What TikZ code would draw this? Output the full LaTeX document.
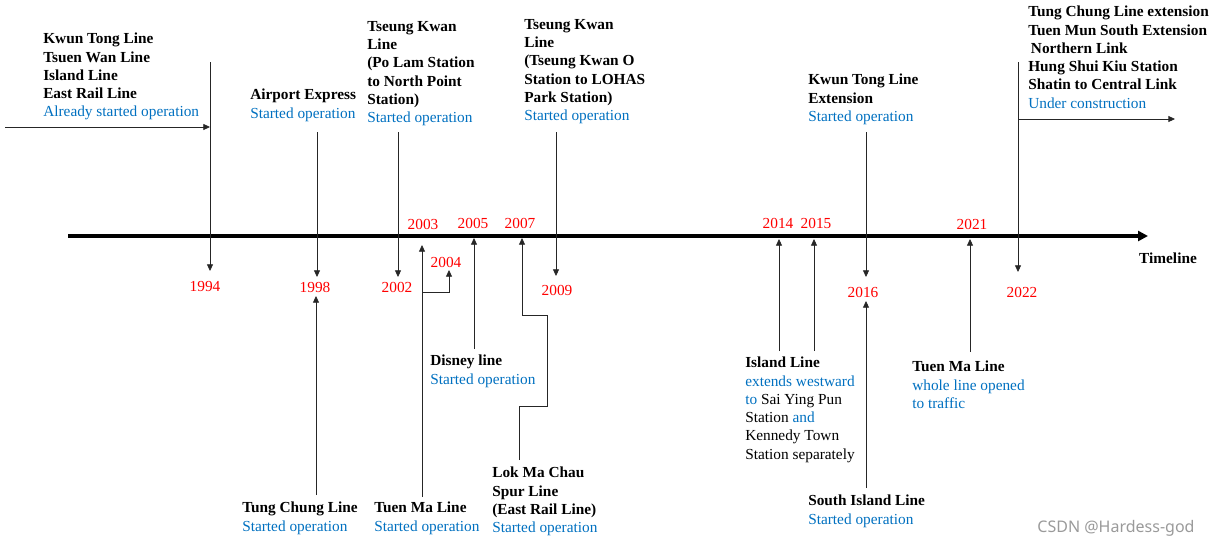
\documentclass[tikz,border=0pt]{standalone}
\usepackage{fontspec}
\setmainfont{Liberation Serif}
\newfontfamily\wmfont{Noto Sans}
\usepackage{xcolor}
\usetikzlibrary{arrows.meta,positioning,calc}
\definecolor{tblue}{HTML}{0070C0}
\definecolor{tred}{HTML}{FF0000}
\definecolor{tline}{HTML}{262626}
\definecolor{wmgrey}{HTML}{9A9A9A}
\newcommand{\optext}[1]{\textcolor{tblue}{#1}}

\begin{document}
\begin{tikzpicture}[
  x=0.75pt,y=-0.75pt,
  every node/.style={font=\fontsize{11.5}{13.7}\selectfont},
  lbl/.style={anchor=north west,inner sep=0pt,align=left},
  yr/.style={text=tred,inner sep=0pt},
  arrow/.style={-{Triangle[length=5pt,width=4.5pt]},line width=0.6pt,draw=tline},
  axis/.style={-{Triangle[length=7.5pt,width=7.5pt]},line width=3pt}
]
\useasboundingbox (0,0) rectangle (1209,546);

% main time axis
\coordinate (axl) at (68,236);
\coordinate (axr) at (1148,236);
\draw[axis] (axl) -- (axr);
\node[inner sep=0pt] (timeline) at (1168,258) {\textbf{Timeline}};

% before 1994
\node[lbl] (early) at (43,33) {\textbf{Kwun Tong Line}\\\textbf{Tsuen Wan Line}\\\textbf{Island Line}\\\textbf{East Rail Line}\\\optext{Already started operation}};
\coordinate (early-in) at (5,127);
\coordinate (v1994) at (210,127);
\coordinate (s1994) at (210,62);
\coordinate (e1994) at (210,271);
\node[yr] (y1994) at (205,286) {1994};
\draw[arrow] (early-in) -- (v1994);
\draw[arrow] (s1994) -- (e1994);

% 1998
\node[lbl] (ae) at (250,89) {\textbf{Airport Express}\\\optext{Started operation}};
\coordinate (s1998) at (317,132);
\coordinate (e1998) at (317,277);
\node[yr] (y1998) at (315,287) {1998};
\draw[arrow] (s1998) -- (e1998);
\node[lbl] (tcl) at (242,502) {\textbf{Tung Chung Line}\\\optext{Started operation}};
\coordinate (b1998) at (316,495);
\coordinate (u1998) at (316,296);
\draw[arrow] (b1998) -- (u1998);

% 2002
\node[lbl] (tkl-a) at (367,21) {\textbf{Tseung Kwan}\\\textbf{Line}\\\textbf{(Po Lam Station}\\\textbf{to North Point}\\\textbf{Station)}\\\optext{Started operation}};
\coordinate (s2002) at (398,132);
\coordinate (e2002) at (398,277);
\node[yr] (y2002) at (397,287) {2002};
\draw[arrow] (s2002) -- (e2002);

% 2003 / 2004
\node[yr] (y2003) at (423,224) {2003};
\node[yr] (y2004) at (446,262) {2004};
\node[lbl] (tml-a) at (374,502) {\textbf{Tuen Ma Line}\\\optext{Started operation}};
\coordinate (b2003) at (422,497);
\coordinate (u2003) at (422,245);
\coordinate (k2004) at (422,292);
\coordinate (u2004) at (449,270);
\draw[arrow] (b2003) -- (u2003);
\draw[arrow] (k2004) -| (u2004);

% 2005
\node[yr] (y2005) at (473,223) {2005};
\node[lbl] (dis) at (430,355) {\textbf{Disney line}\\\optext{Started operation}};
\coordinate (b2005) at (474,349);
\coordinate (u2005) at (474,238);
\draw[arrow] (b2005) -- (u2005);

% 2007
\node[yr] (y2007) at (520,223) {2007};
\node[lbl] (lmc) at (492,467) {\textbf{Lok Ma Chau}\\\textbf{Spur Line}\\\textbf{(East Rail Line)}\\\optext{Started operation}};
\coordinate (b2007) at (519,460);
\coordinate (j2007a) at (547,406);
\coordinate (j2007b) at (522,315);
\coordinate (u2007) at (522,238);
\draw[arrow] (b2007) |- (j2007a) |- (j2007b) -- (u2007);

% 2009
\node[lbl] (tkl-b) at (524,19) {\textbf{Tseung Kwan}\\\textbf{Line}\\\textbf{(Tseung Kwan O}\\\textbf{Station to LOHAS}\\\textbf{Park Station)}\\\optext{Started operation}};
\coordinate (s2009) at (556,132);
\coordinate (e2009) at (556,276);
\node[yr] (y2009) at (557,290) {2009};
\draw[arrow] (s2009) -- (e2009);

% 2014 / 2015
\node[yr] (y2014) at (778,223) {2014};
\node[yr] (y2015) at (816,223) {2015};
\node[lbl] (isl) at (745,357) {\textbf{Island Line}\\\optext{extends westward}\\\optext{to} Sai Ying Pun\\Station \optext{and}\\Kennedy Town\\Station separately};
\coordinate (b2014) at (779,351);
\coordinate (u2014) at (779,239);
\coordinate (b2015) at (814,351);
\coordinate (u2015) at (814,239);
\draw[arrow] (b2014) -- (u2014);
\draw[arrow] (b2015) -- (u2015);

% 2016
\node[lbl] (ktle) at (808,74) {\textbf{Kwun Tong Line}\\\textbf{Extension}\\\optext{Started operation}};
\coordinate (s2016) at (866,132);
\coordinate (e2016) at (866,277);
\node[yr] (y2016) at (863,292) {2016};
\draw[arrow] (s2016) -- (e2016);
\node[lbl] (sil) at (808,495) {\textbf{South Island Line}\\\optext{Started operation}};
\coordinate (b2016) at (866,488);
\coordinate (u2016) at (866,301);
\draw[arrow] (b2016) -- (u2016);

% 2021
\node[yr] (y2021) at (972,224) {2021};
\node[lbl] (tml-b) at (912,361) {\textbf{Tuen Ma Line}\\\optext{whole line opened}\\\optext{to traffic}};
\coordinate (b2021) at (970,352);
\coordinate (u2021) at (970,239);
\draw[arrow] (b2021) -- (u2021);

% 2022 and later
\node[lbl] (future) at (1028,6) {\textbf{Tung Chung Line extension}\\\textbf{Tuen Mun South Extension}\\\hspace{2pt}\textbf{Northern Link}\\\textbf{Hung Shui Kiu Station}\\\textbf{Shatin to Central Link}\\\optext{Under construction}};
\coordinate (s2022) at (1018,62);
\coordinate (e2022) at (1018,272);
\coordinate (h2022) at (1018,119);
\coordinate (f2022) at (1175,119);
\node[yr] (y2022) at (1022,292) {2022};
\draw[arrow] (s2022) -- (e2022);
\draw[arrow] (h2022) -- (f2022);

\node[inner sep=0pt,text=wmgrey] (wm) at (1116,528) {\wmfont\fontsize{12}{14}\selectfont CSDN @Hardess-god};
\end{tikzpicture}
\end{document}
